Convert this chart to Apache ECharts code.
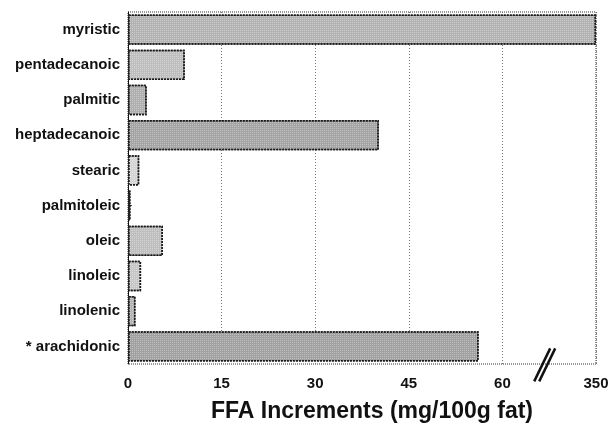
<!DOCTYPE html>
<html>
<head>
<meta charset="utf-8">
<script src="https://cdn.jsdelivr.net/npm/echarts@6/dist/echarts.min.js"></script>
<style>
  html, body { margin: 0; padding: 0; background: #fff; }
  #chart { width: 610px; height: 424px; }
</style>
</head>
<body>
<div id="chart"></div>
<script>
// fatty acids, top to bottom
var acids = ['myristic', 'pentadecanoic', 'palmitic', 'heptadecanoic', 'stearic',
  'palmitoleic', 'oleic', 'linoleic', 'linolenic', '* arachidonic'];
// FFA increments (mg/100g fat)
var increments = [350, 9.1, 3.0, 40.2, 1.8, 0.4, 5.6, 2.1, 1.2, 56.2];
// labelled ticks on the broken x axis
var tickValues = [0, 15, 30, 45, 60, 350];
// the axis is cut between these two values
var cutFrom = 67.5;
var cutTo = 342.5;

var shades = ['#b2b2b2', '#bebebe', '#aeaeae', '#a4a4a4', '#d4d4d4',
  '#999999', '#bebebe', '#c6c6c6', '#b2b2b2', '#a0a0a0'];

var chart = echarts.init(document.getElementById('chart'));

var boldFont = 'Liberation Sans, Arial, sans-serif';

chart.setOption({
  animation: false,
  grid: {
    left: 128,
    right: 14,
    top: 12,
    bottom: 60,
    outerBoundsMode: 'none',
    containLabel: false,
    show: true,
    borderColor: '#333',
    borderWidth: 1,
    borderType: 'dotted'
  },
  xAxis: {
    type: 'value',
    min: 0,
    max: 350,
    breaks: [{ start: cutFrom, end: cutTo, gap: 0 }],
    breakArea: { show: false },
    name: 'FFA Increments (mg/100g fat)',
    nameLocation: 'middle',
    nameGap: 36,
    nameTextStyle: {
      fontFamily: boldFont,
      fontWeight: 'bold',
      fontSize: 23,
      color: '#111',
      padding: [0, 0, 0, 20]
    },
    axisLine: { show: false },
    axisTick: { show: false, customValues: tickValues },
    axisLabel: {
      customValues: tickValues,
      fontFamily: boldFont,
      fontWeight: 'bold',
      fontSize: 15,
      color: '#111',
      margin: 12
    },
    splitLine: {
      show: true,
      lineStyle: { color: '#777', type: [1, 2], width: 1 }
    }
  },
  yAxis: {
    type: 'category',
    data: acids,
    inverse: true,
    axisLine: { show: true, lineStyle: { color: '#111', width: 1 } },
    axisTick: { show: true, inside: true, length: 4, alignWithLabel: true, lineStyle: { color: '#444' } },
    axisLabel: {
      fontFamily: boldFont,
      fontWeight: 'bold',
      fontSize: 15,
      color: '#111',
      margin: 8
    }
  },
  series: [{
    type: 'bar',
    barCategoryGap: '14%',
    data: increments.map(function (v, i) {
      return { value: v, itemStyle: { color: shades[i] } };
    }),
    itemStyle: {
      borderColor: '#1a1a1a',
      borderWidth: 1.5,
      borderType: [2, 1],
      decal: {
        symbol: 'rect',
        symbolSize: 1,
        color: 'rgba(255,255,255,0.35)',
        dashArrayX: [1, 1],
        dashArrayY: [1, 1],
        rotation: 0
      }
    }
  }]
});

// the "//" cut mark on the x axis
function drawCutMark() {
  var p = chart.convertToPixel({ xAxisIndex: 0 }, cutFrom);
  var y = chart.convertToPixel({ yAxisIndex: 0 }, acids.length - 1) + 18;
  if (!isFinite(p)) return;
  var x = p - 6;
  chart.setOption({
    graphic: [
      { type: 'line', shape: { x1: x - 9, y1: y + 17, x2: x + 7, y2: y - 16 },
        style: { stroke: '#111', lineWidth: 2.5 } },
      { type: 'line', shape: { x1: x - 4, y1: y + 17, x2: x + 12, y2: y - 16 },
        style: { stroke: '#111', lineWidth: 2.5 } }
    ]
  });
}
drawCutMark();
</script>
</body>
</html>
